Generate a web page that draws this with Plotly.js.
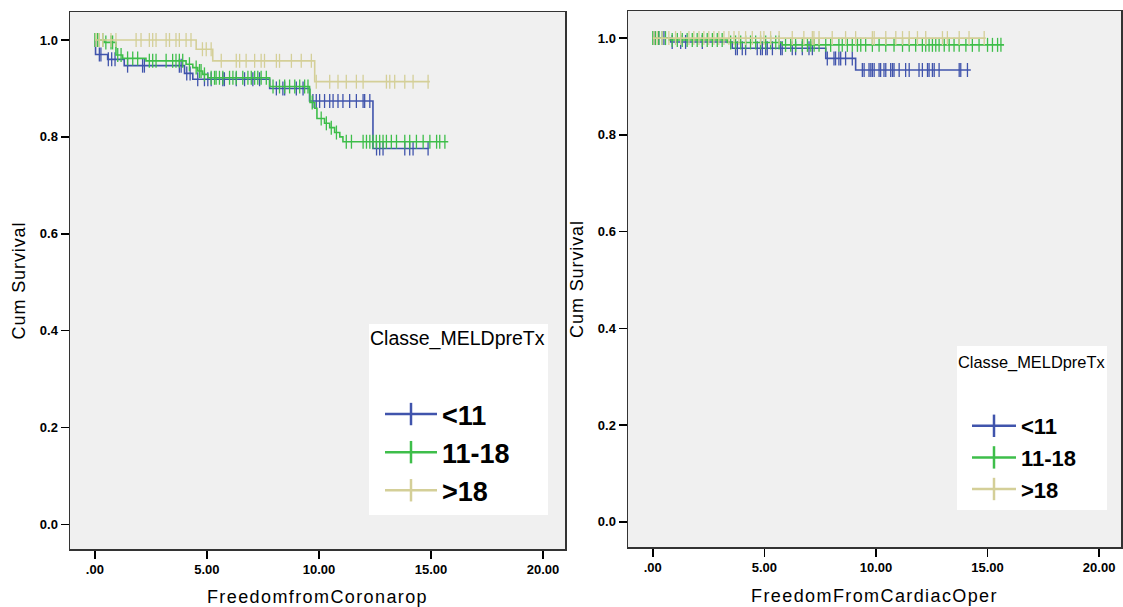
<!DOCTYPE html>
<html>
<head>
<meta charset="utf-8">
<script src="https://cdn.plot.ly/plotly-3.0.1.min.js"></script>
<style>
html,body{margin:0;padding:0;background:#fff;}
#chart{width:1123px;height:607px;}
text.xtitle, text.x2title { letter-spacing: 1.4px; }
text.ytitle, text.y2title { letter-spacing: 0.9px; }
</style>
</head>
<body>
<div id="chart"></div>
<script>
// ---------- categories ----------
const groups = ['<11', '11-18', '>18'];
const groupColors = ['rgb(64,84,172)', 'rgb(62,190,74)', 'rgb(212,207,152)'];

// ---------- axis ticks ----------
const xTickVals = [0, 5, 10, 15, 20];
const xTickText = ['.00', '5.00', '10.00', '15.00', '20.00'];
const yTickVals = [0, 0.2, 0.4, 0.6, 0.8, 1.0];
const yTickText = ['0.0', '0.2', '0.4', '0.6', '0.8', '1.0'];

// ---------- Panel 1: FreedomfromCoronarop ----------
// <11
const cor_lt11_times = [0, 0.03, 0.57, 1.31, 4.0, 4.37, 7.8, 9.58, 12.41];
const cor_lt11_surv  = [1.0, 0.970, 0.960, 0.947, 0.931, 0.919, 0.900, 0.874, 0.776];
const cor_lt11_end = 14.9;
const cor_lt11_cens = [0.2, 0.27, 0.6, 0.75, 0.9, 1.46, 2.13, 2.21, 3.77, 3.85, 4.1, 4.25,
  4.59, 4.89, 5.04, 5.19, 5.71, 5.78, 6.31, 6.68, 7.05, 7.35, 8.1, 8.39, 8.47, 8.99, 9.29,
  9.73, 9.88, 10.03, 10.25, 10.48, 10.63, 10.85, 11.07, 11.37, 11.67, 11.97, 12.04, 12.27,
  12.57, 12.71, 12.86, 13.83, 14.05, 14.2, 14.87];
// 11-18
const cor_mid_times = [0, 0.42, 0.94, 1.24, 2.28, 4.07, 4.37, 4.59, 4.81, 5.04, 7.8, 9.58, 9.6, 9.81, 9.91, 10.25, 10.48, 10.70, 10.93, 11.07];
const cor_mid_surv  = [1.0, 0.995, 0.969, 0.962, 0.957, 0.950, 0.943, 0.936, 0.929, 0.922, 0.904, 0.897, 0.871, 0.859, 0.838, 0.828, 0.819, 0.809, 0.800, 0.790];
const cor_mid_end = 15.77;
const cor_mid_cens = [0.0, 0.12, 0.2, 0.35, 0.49, 0.72, 0.79, 1.02, 1.17, 1.46, 1.69, 1.91,
  2.43, 2.58, 2.73, 3.18, 3.47, 3.62, 3.77, 3.92, 4.22, 4.52, 4.67, 4.74, 4.89,
  5.19, 5.34, 5.41, 5.56, 5.71, 6.01, 6.16, 6.31, 6.6, 6.83, 6.98, 7.13, 7.27, 7.42, 7.65,
  7.95, 8.24, 8.47, 8.69, 8.92, 9.14, 9.36, 9.51, 9.7, 10.1, 10.33, 10.55, 10.78,
  11.22, 11.45, 11.97, 12.12, 12.27, 12.41, 12.56, 12.71, 12.86, 13.01, 13.23, 13.46,
  13.83, 14.05, 14.35, 14.65, 14.95, 15.25, 15.39, 15.62];
// >18
const cor_gt18_times = [0, 4.52, 5.26, 9.81];
const cor_gt18_surv  = [1.0, 0.981, 0.957, 0.914];
const cor_gt18_end = 14.95;
const cor_gt18_cens = [0.05, 0.2, 0.35, 0.72, 0.94, 1.84, 2.06, 2.43, 2.58, 2.73, 3.18, 3.33,
  3.62, 3.77, 4.07, 4.29, 4.8, 4.97, 5.19, 5.64, 6.31, 6.46, 6.75, 7.13, 7.42, 7.57, 8.1,
  8.24, 8.77, 9.21, 9.66, 9.88, 10.48, 10.85, 11.22, 11.67, 11.97, 13.01, 13.16, 13.38,
  13.83, 14.2, 14.87];

// ---------- Panel 2: FreedomFromCardiacOper ----------
const car_lt11_times = [0, 0.8, 3.56, 7.75, 9.09];
const car_lt11_surv  = [1.0, 0.992, 0.979, 0.958, 0.934];
const car_lt11_end = 14.25;
const car_lt11_cens = [0.05, 0.27, 0.5, 0.87, 1.25, 1.47, 2.22, 3.71, 3.79, 4.01, 4.16, 4.68,
  4.83, 4.91, 5.06, 5.13, 5.36, 5.73, 5.8, 6.25, 6.4, 6.7, 7.0, 7.15, 7.82, 8.12, 8.19,
  8.34, 8.42, 8.64, 8.94, 9.39, 9.47, 9.69, 9.77, 9.84, 9.92, 10.14, 10.21, 10.36, 10.44,
  10.66, 10.74, 10.81, 11.04, 11.33, 11.49, 11.93, 12.08, 12.31, 12.38, 12.53, 12.61,
  12.83, 13.73, 13.8, 14.1];
const car_mid_times = [0, 0.72, 3.34, 5.8];
const car_mid_surv  = [1.0, 0.996, 0.991, 0.986];
const car_mid_end = 15.74;
const car_mid_cens = [0.0, 0.12, 0.27, 0.42, 0.57, 0.87, 1.1, 1.32, 1.54, 1.77, 1.99, 2.22,
  2.44, 2.67, 2.89, 3.11, 3.49, 3.71, 3.94, 4.16, 4.38, 4.61, 4.83, 5.06, 5.28, 5.51,
  5.66, 5.95, 6.18, 6.4, 6.7, 6.93, 7.08, 7.23, 7.45, 7.75, 7.97, 8.34, 8.49, 8.72,
  8.94, 9.17, 9.32, 9.54, 9.84, 10.14, 10.44, 10.81, 11.19, 11.49, 11.78, 12.08, 12.23,
  12.38, 12.53, 12.68, 12.83, 13.06, 13.28, 13.5, 13.73, 14.03, 14.32, 14.62, 15.0,
  15.22, 15.45, 15.6];
const car_gt18_times = [0];
const car_gt18_surv  = [1.0];
const car_gt18_end = 14.92;
const car_gt18_cens = [0.05, 0.2, 0.42, 0.72, 1.02, 1.25, 1.62, 1.84, 2.07, 2.29, 2.51, 2.74,
  2.96, 3.19, 3.41, 3.64, 3.86, 4.16, 4.46, 4.83, 4.98, 5.28, 5.66, 6.25, 6.77, 7.15,
  7.22, 7.45, 8.04, 8.64, 9.09, 9.84, 9.92, 10.44, 10.89, 11.19, 11.49, 11.86, 12.23,
  12.98, 13.2, 13.73, 14.17, 14.85];

// ---------- build traces ----------
function survAt(times, surv, t) {
  let s = surv[0];
  for (let i = 0; i < times.length; i++) { if (times[i] <= t) s = surv[i]; }
  return s;
}
function kmTraces(times, surv, end, cens, color, xa, ya) {
  const lx = times.concat([end]);
  const ly = surv.concat([surv[surv.length - 1]]);
  return [
    {x: lx, y: ly, xaxis: xa, yaxis: ya, mode: 'lines', type: 'scatter',
     line: {shape: 'hv', color: color, width: 1.6}, showlegend: false, hoverinfo: 'skip'},
    {x: cens, y: cens.map(t => survAt(times, surv, t)), xaxis: xa, yaxis: ya,
     mode: 'markers', type: 'scatter', showlegend: false,
     marker: {symbol: 'line-ns-open', size: 10, color: color, line: {color: color, width: 1.3}}}
  ];
}
function legendTrace(i, xa, ya, lg) {
  return {x: [-100], y: [-100], xaxis: xa, yaxis: ya, mode: 'lines+markers', type: 'scatter',
    name: groups[i], legend: lg,
    line: {color: groupColors[i], width: 2.5},
    marker: {symbol: 'line-ns-open', size: 16, color: groupColors[i], line: {color: groupColors[i], width: 2.5}}};
}

const panel1 = [
  [cor_lt11_times, cor_lt11_surv, cor_lt11_end, cor_lt11_cens],
  [cor_mid_times, cor_mid_surv, cor_mid_end, cor_mid_cens],
  [cor_gt18_times, cor_gt18_surv, cor_gt18_end, cor_gt18_cens]
];
const panel2 = [
  [car_lt11_times, car_lt11_surv, car_lt11_end, car_lt11_cens],
  [car_mid_times, car_mid_surv, car_mid_end, car_mid_cens],
  [car_gt18_times, car_gt18_surv, car_gt18_end, car_gt18_cens]
];

let data = [];
panel1.forEach((g, i) => { data = data.concat(kmTraces(g[0], g[1], g[2], g[3], groupColors[i], 'x', 'y')); });
panel2.forEach((g, i) => { data = data.concat(kmTraces(g[0], g[1], g[2], g[3], groupColors[i], 'x2', 'y2')); });
groups.forEach((g, i) => { data.push(legendTrace(i, 'x', 'y', 'legend')); });
groups.forEach((g, i) => { data.push(legendTrace(i, 'x2', 'y2', 'legend2')); });

const W = 1123, H = 607;
const tickFont = {family: 'Liberation Sans, Arial, sans-serif', size: 13, color: '#000', weight: 'bold'};
const titleFont = {family: 'Liberation Sans, Arial, sans-serif', size: 18, color: '#000'};

function xAxis(domain, title, anchor) {
  return {domain: domain, anchor: anchor, range: [-1.11, 20.98], tickvals: xTickVals, ticktext: xTickText,
    ticks: 'outside', ticklen: 8, tickwidth: 1.5, tickcolor: '#000', showgrid: false, zeroline: false,
    showline: true, linecolor: '#333', linewidth: 1.5, mirror: true, tickfont: tickFont,
    title: {text: title, font: titleFont, standoff: 15}};
}
function yAxis(domain, range, anchor) {
  return {domain: domain, anchor: anchor, range: range, tickvals: yTickVals, ticktext: yTickText,
    ticks: 'outside', ticklen: 8, tickwidth: 1.5, tickcolor: '#000', showgrid: false, zeroline: false,
    showline: true, linecolor: '#333', linewidth: 1.5, mirror: true, tickfont: tickFont,
    title: {text: 'Cum Survival', font: titleFont, standoff: 9}};
}

const layout = {
  width: W, height: H,
  margin: {l: 0, r: 0, t: 0, b: 0},
  paper_bgcolor: '#fff', plot_bgcolor: '#f0f0f0',
  xaxis: xAxis([70 / W, 565 / W], 'FreedomfromCoronarop', 'y'),
  yaxis: yAxis([1 - 549 / H, 1 - 12 / H], [-0.0508, 1.0578], 'x'),
  xaxis2: xAxis([628 / W, 1121 / W], 'FreedomFromCardiacOper', 'y2'),
  yaxis2: yAxis([1 - 547 / H, 1 - 11 / H], [-0.052, 1.056], 'x2'),
  shapes: [
    {type: 'rect', xref: 'paper', yref: 'paper', x0: 369 / W, x1: 548 / W, y0: 1 - 515 / H, y1: 1 - 324 / H,
     fillcolor: '#fff', line: {width: 0}, layer: 'below'},
    {type: 'rect', xref: 'paper', yref: 'paper', x0: 957 / W, x1: 1107 / W, y0: 1 - 510 / H, y1: 1 - 346 / H,
     fillcolor: '#fff', line: {width: 0}, layer: 'below'}
  ],
  annotations: [
    {text: 'Classe_MELDpreTx', xref: 'paper', yref: 'paper', x: 457 / W, y: 1 - 338 / H,
     xanchor: 'center', yanchor: 'middle', showarrow: false,
     font: {family: 'Liberation Sans, Arial, sans-serif', size: 19.5, color: '#000'}},
    {text: 'Classe_MELDpreTx', xref: 'paper', yref: 'paper', x: 1031 / W, y: 1 - 362 / H,
     xanchor: 'center', yanchor: 'middle', showarrow: false,
     font: {family: 'Liberation Sans, Arial, sans-serif', size: 16.4, color: '#000'}}
  ],
  legend: {x: 380 / W, y: 1 - 390 / H, xanchor: 'left', yanchor: 'top', bgcolor: 'rgba(0,0,0,0)',
    font: {family: 'Liberation Sans, Arial, sans-serif', size: 27, color: '#000', weight: 'bold'},
    itemsizing: 'trace', itemwidth: 52, tracegroupgap: 0},
  legend2: {x: 967 / W, y: 1 - 405 / H, xanchor: 'left', yanchor: 'top', bgcolor: 'rgba(0,0,0,0)',
    font: {family: 'Liberation Sans, Arial, sans-serif', size: 22, color: '#000', weight: 'bold'},
    itemsizing: 'trace', itemwidth: 44, tracegroupgap: 0},
  showlegend: true
};

Plotly.newPlot('chart', data, layout, {displayModeBar: false, staticPlot: true});
</script>
</body>
</html>
